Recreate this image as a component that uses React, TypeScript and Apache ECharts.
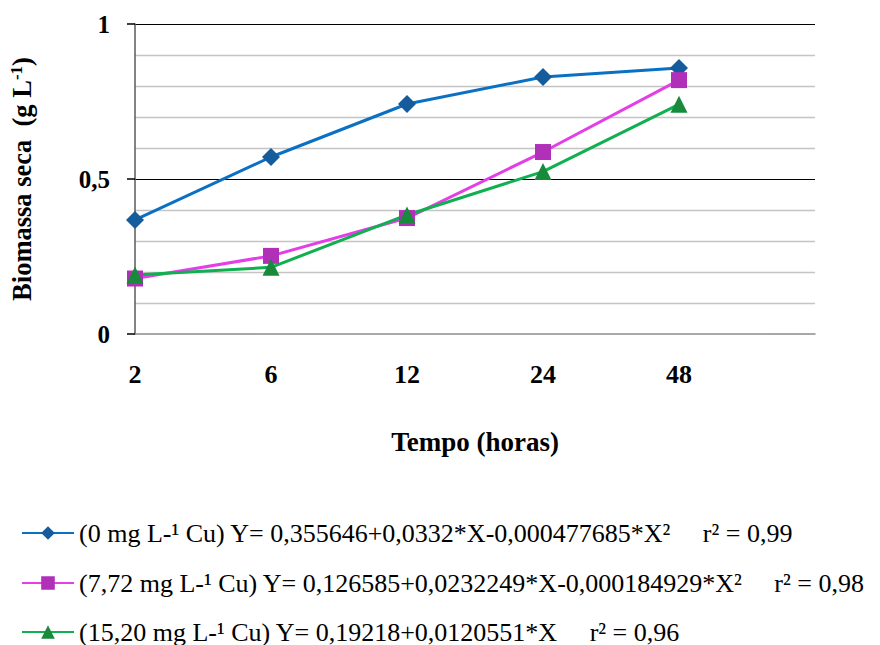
import React, { useEffect, useRef } from "react";
import * as echarts from "echarts";

const categories = ["2", "6", "12", "24", "48", ""];
const serie0 = [0.368, 0.571, 0.742, 0.829, 0.858];
const serie772 = [0.179, 0.252, 0.374, 0.587, 0.819];
const serie1520 = [0.19, 0.215, 0.384, 0.524, 0.741];
const names = [
  "(0 mg L-¹ Cu) Y= 0,355646+0,0332*X-0,000477685*X²     r² = 0,99",
  "(7,72 mg L-¹ Cu) Y= 0,126585+0,0232249*X-0,000184929*X²     r² = 0,98",
  "(15,20 mg L-¹ Cu) Y= 0,19218+0,0120551*X     r² = 0,96",
];
const yTickLabels: Record<string, string> = { "0": "0", "0.5": "0,5", "1": "1" };

const FONT = "Liberation Serif";
const FONT_B = "serif";

export default function App() {
  const ref = useRef<HTMLDivElement>(null);
  useEffect(() => {
    if (!ref.current) return;
    const chart = echarts.init(ref.current, undefined, { renderer: "svg" });
    const mk = (
      name: string,
      data: number[],
      line: string,
      symbol: string,
      symColor: string,
      symSize: number
    ) => ({
      name,
      type: "line",
      data,
      symbol,
      symbolSize: symSize,
      showAllSymbol: true,
      lineStyle: { color: line, width: 3 },
      itemStyle: { color: symColor, borderColor: symColor, borderWidth: 0 },
    });
    const legendTops = [515, 565, 614];
    chart.setOption({
      animation: false,
      grid: { left: 133, right: 65, top: 24, bottom: 311 },
      legend: names.map((n, i) => ({
        left: 16,
        top: legendTops[i],
        itemWidth: 52,
        itemHeight: 17,
        itemGap: 4,
        textStyle: { fontFamily: FONT, fontSize: 26, color: "#000" },
        data: [n],
      })),
      xAxis: {
        type: "category",
        data: categories,
        boundaryGap: false,
        axisLine: { show: true, lineStyle: { color: "#8c8c8c", width: 1.5 } },
        axisTick: { show: false },
        axisLabel: {
          margin: 27,
          fontFamily: FONT_B,
          fontSize: 26,
          fontWeight: "bold",
          color: "#000",
        },
        splitLine: { show: false },
        name: "Tempo (horas)",
        nameLocation: "middle",
        nameGap: 94,
        nameTextStyle: { fontFamily: FONT_B, fontSize: 27, fontWeight: "bold", color: "#000" },
      },
      yAxis: {
        type: "value",
        min: 0,
        max: 1,
        interval: 0.5,
        axisLine: { show: true, lineStyle: { color: "#5a5a5a", width: 1.5 } },
        axisTick: { show: true, length: 8, lineStyle: { color: "#000", width: 1.5 } },
        axisLabel: {
          margin: 25,
          fontFamily: FONT_B,
          fontSize: 25,
          fontWeight: "bold",
          color: "#000",
          formatter: (v: number) => yTickLabels[String(v)] ?? "",
        },
        splitLine: {
          show: true,
          lineStyle: { color: ["rgba(0,0,0,0)", "#000", "#000"], width: 1.2 },
        },
        minorTick: { show: false, splitNumber: 5 },
        minorSplitLine: { show: true, lineStyle: { color: "#c4c4c4", width: 1.3 } },
        name: "{a|Biomassa seca  (g L}{s|-1}{a|)}",
        nameLocation: "middle",
        nameGap: 100,
        nameRotate: 90,
        nameTextStyle: {
          rich: {
            a: { fontFamily: FONT_B, fontSize: 26.5, fontWeight: "bold", color: "#000" },
            s: {
              fontFamily: FONT_B,
              fontSize: 17,
              fontWeight: "bold",
              color: "#000",
              verticalAlign: "top",
              padding: [0, 0, 10, 0],
            },
          },
        },
      },
      series: [
        mk(names[0], serie0, "#0a70c4", "diamond", "#155c9c", 18),
        mk(names[1], serie772, "#e33ee8", "rect", "#b030b8", 16),
        mk(names[2], serie1520, "#10b050", "triangle", "#188a3c", 17),
      ],
    });
    return () => chart.dispose();
  }, []);
  return <div ref={ref} style={{ width: 880, height: 645 }} />;
}

if (typeof document !== "undefined") {
  document.body.style.margin = "0";
}
